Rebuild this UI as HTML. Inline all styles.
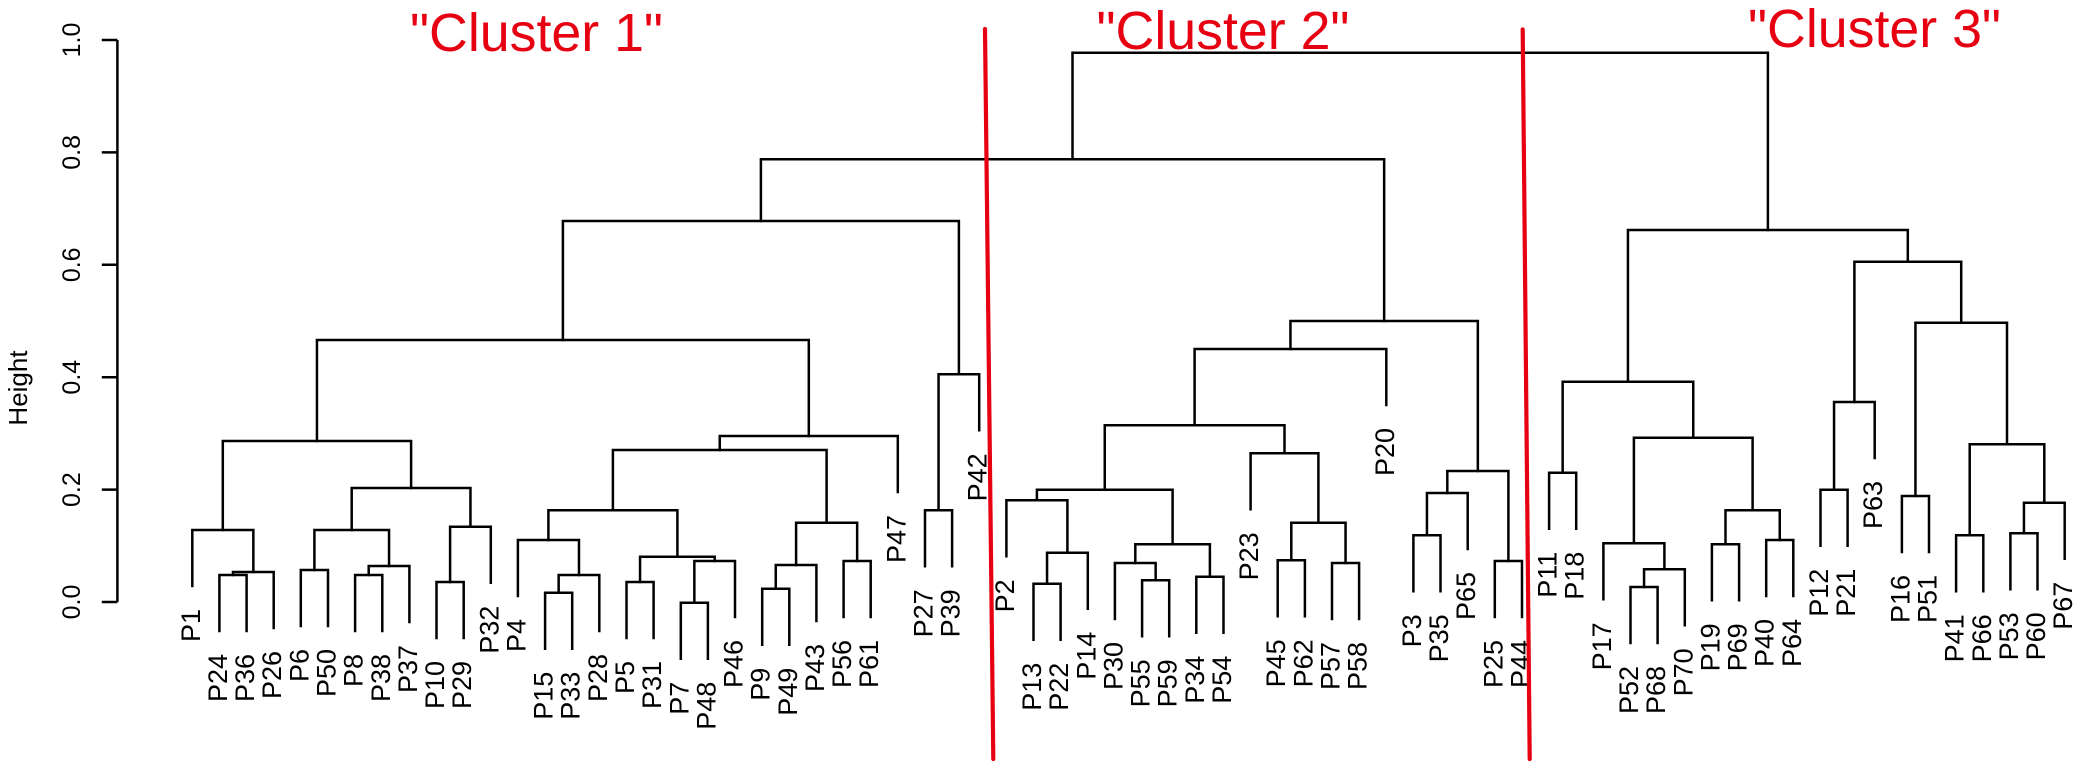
<!DOCTYPE html>
<html>
<head>
<meta charset="utf-8">
<style>
  html, body { margin: 0; padding: 0; background: #ffffff; }
  svg { display: block; }
</style>
</head>
<body>
<svg width="2079" height="766" viewBox="0 0 2079 766" xmlns="http://www.w3.org/2000/svg">
  <rect x="0" y="0" width="2079" height="766" fill="#ffffff"/>

  <!-- Y axis -->
  <g stroke="#000" stroke-width="2.5" fill="none">
    <path d="M117.4,40 V602"/>
    <path d="M101.8,40 H117.4 M101.8,152.4 H117.4 M101.8,264.8 H117.4 M101.8,377.2 H117.4 M101.8,489.6 H117.4 M101.8,602 H117.4"/>
  </g>
  <g font-family="Liberation Sans, Arial, sans-serif" font-size="25" fill="#000" text-anchor="middle">
    <text transform="translate(80,40) rotate(-90)">1.0</text>
    <text transform="translate(80,152.4) rotate(-90)">0.8</text>
    <text transform="translate(80,264.8) rotate(-90)">0.6</text>
    <text transform="translate(80,377.2) rotate(-90)">0.4</text>
    <text transform="translate(80,489.6) rotate(-90)">0.2</text>
    <text transform="translate(80,602) rotate(-90)">0.0</text>
    <text transform="translate(27,388) rotate(-90)" font-size="26">Height</text>
  </g>

  <!-- Dendrogram -->
  <g stroke="#000" stroke-width="2.5" fill="none" stroke-linecap="square">
    <!-- Cluster 1 -->
    <path d="M219.4,631 V575 H246.6 V631"/>
    <path d="M233,575 V572 H273.7 V628"/>
    <path d="M192.3,586 V530 H253.35 V572"/>
    <path d="M300.8,626 V570 H328 V626"/>
    <path d="M355.1,631 V575 H382.3 V631"/>
    <path d="M368.7,575 V566 H409.4 V622"/>
    <path d="M314.4,570 V530 H389.05 V566"/>
    <path d="M436.5,638 V582 H463.7 V638"/>
    <path d="M450.1,582 V526.7 H490.8 V582.7"/>
    <path d="M351.7,530 V488 H470.45 V526.7"/>
    <path d="M222.8,530 V441 H411.1 V488"/>
    <path d="M545.1,648.7 V592.7 H572.2 V648.7"/>
    <path d="M558.65,592.7 V575 H599.3 V631"/>
    <path d="M517.9,596 V540 H578.98 V575"/>
    <path d="M626.5,638 V582 H653.6 V638"/>
    <path d="M680.8,658.7 V602.7 H707.9 V658.7"/>
    <path d="M694.35,602.7 V561 H735 V617"/>
    <path d="M640.05,582 V556.7 H714.7 V561"/>
    <path d="M548.4,540 V510.3 H677.4 V556.7"/>
    <path d="M762.2,644.7 V588.7 H789.3 V644.7"/>
    <path d="M775.75,588.7 V565 H816.4 V621"/>
    <path d="M843.6,617 V561 H870.7 V617"/>
    <path d="M796.1,565 V522.7 H857.15 V561"/>
    <path d="M612.9,510.3 V450 H826.6 V522.7"/>
    <path d="M719.75,450 V436 H897.8 V492"/>
    <path d="M316.95,441 V340 H808.8 V436"/>
    <path d="M925,566.3 V510.3 H952.1 V566.3"/>
    <path d="M938.55,510.3 V374.3 H979.2 V430.3"/>
    <path d="M562.9,340 V221 H958.9 V374.3"/>
    <!-- Cluster 2 -->
    <path d="M1033.5,639.7 V583.7 H1060.6 V639.7"/>
    <path d="M1047.05,583.7 V552.7 H1087.8 V608.7"/>
    <path d="M1006.4,556.3 V500.3 H1067.4 V552.7"/>
    <path d="M1142.1,636.3 V580.3 H1169.2 V636.3"/>
    <path d="M1114.9,619 V563 H1155.65 V580.3"/>
    <path d="M1196.3,632.7 V576.7 H1223.5 V632.7"/>
    <path d="M1135.3,563 V544.3 H1209.9 V576.7"/>
    <path d="M1036.9,500.3 V489.7 H1172.6 V544.3"/>
    <path d="M1277.7,616.3 V560.3 H1304.9 V616.3"/>
    <path d="M1332,619 V563 H1359.1 V619"/>
    <path d="M1291.3,560.3 V522.7 H1345.55 V563"/>
    <path d="M1250.6,509.3 V453.3 H1318.4 V522.7"/>
    <path d="M1104.75,489.7 V425.3 H1284.5 V453.3"/>
    <path d="M1194.6,425.3 V349 H1386.3 V405"/>
    <path d="M1413.4,591.3 V535.3 H1440.5 V591.3"/>
    <path d="M1426.95,535.3 V493 H1467.7 V549"/>
    <path d="M1494.8,617 V561 H1522 V617"/>
    <path d="M1447.3,493 V471 H1508.4 V561"/>
    <path d="M1290.45,349 V321 H1477.85 V471"/>
    <path d="M760.9,221 V159.3 H1384.15 V321"/>
    <!-- Cluster 3 -->
    <path d="M1549.1,528.7 V472.7 H1576.2 V528.7"/>
    <path d="M1630.5,643 V587 H1657.6 V643"/>
    <path d="M1644.05,587 V569.3 H1684.8 V625.3"/>
    <path d="M1603.4,599.3 V543.3 H1664.4 V569.3"/>
    <path d="M1711.9,600.3 V544.3 H1739.1 V600.3"/>
    <path d="M1766.2,596 V540 H1793.3 V596"/>
    <path d="M1725.5,544.3 V510.3 H1779.75 V540"/>
    <path d="M1633.9,543.3 V437.7 H1752.6 V510.3"/>
    <path d="M1562.65,472.7 V381.7 H1693.25 V437.7"/>
    <path d="M1820.5,545.7 V489.7 H1847.6 V545.7"/>
    <path d="M1834.05,489.7 V402 H1874.7 V458"/>
    <path d="M1901.9,552 V496 H1929 V552"/>
    <path d="M1956.1,591.3 V535.3 H1983.3 V591.3"/>
    <path d="M2010.4,589.3 V533.3 H2037.5 V589.3"/>
    <path d="M2023.95,533.3 V502.7 H2064.7 V558.7"/>
    <path d="M1969.7,535.3 V444.3 H2044.3 V502.7"/>
    <path d="M1915.45,496 V322.7 H2007 V444.3"/>
    <path d="M1854.4,402 V261.7 H1961.2 V322.7"/>
    <path d="M1627.95,381.7 V230 H1907.8 V261.7"/>
    <!-- Root -->
    <path d="M1072.5,159.3 V52.7 H1767.9 V230"/>
  </g>

  <!-- Leaf labels -->
  <g font-family="Liberation Sans, Arial, sans-serif" font-size="27" fill="#000" text-anchor="end">
    <text transform="translate(199.8,609) rotate(-90)">P1</text>
    <text transform="translate(226.9,654) rotate(-90)">P24</text>
    <text transform="translate(254.1,654) rotate(-90)">P36</text>
    <text transform="translate(281.2,651) rotate(-90)">P26</text>
    <text transform="translate(308.3,649) rotate(-90)">P6</text>
    <text transform="translate(335.5,649) rotate(-90)">P50</text>
    <text transform="translate(362.6,654) rotate(-90)">P8</text>
    <text transform="translate(389.8,654) rotate(-90)">P38</text>
    <text transform="translate(416.9,645) rotate(-90)">P37</text>
    <text transform="translate(444,661) rotate(-90)">P10</text>
    <text transform="translate(471.2,661) rotate(-90)">P29</text>
    <text transform="translate(498.3,605.7) rotate(-90)">P32</text>
    <text transform="translate(525.4,619) rotate(-90)">P4</text>
    <text transform="translate(552.6,671.7) rotate(-90)">P15</text>
    <text transform="translate(579.7,671.7) rotate(-90)">P33</text>
    <text transform="translate(606.8,654) rotate(-90)">P28</text>
    <text transform="translate(634,661) rotate(-90)">P5</text>
    <text transform="translate(661.1,661) rotate(-90)">P31</text>
    <text transform="translate(688.3,681.7) rotate(-90)">P7</text>
    <text transform="translate(715.4,681.7) rotate(-90)">P48</text>
    <text transform="translate(742.5,640) rotate(-90)">P46</text>
    <text transform="translate(769.7,667.7) rotate(-90)">P9</text>
    <text transform="translate(796.8,667.7) rotate(-90)">P49</text>
    <text transform="translate(823.9,644) rotate(-90)">P43</text>
    <text transform="translate(851.1,640) rotate(-90)">P56</text>
    <text transform="translate(878.2,640) rotate(-90)">P61</text>
    <text transform="translate(905.3,515) rotate(-90)">P47</text>
    <text transform="translate(932.5,589.3) rotate(-90)">P27</text>
    <text transform="translate(959.6,589.3) rotate(-90)">P39</text>
    <text transform="translate(986.7,453.3) rotate(-90)">P42</text>
    <text transform="translate(1013.9,579.3) rotate(-90)">P2</text>
    <text transform="translate(1041,662.7) rotate(-90)">P13</text>
    <text transform="translate(1068.1,662.7) rotate(-90)">P22</text>
    <text transform="translate(1095.3,631.7) rotate(-90)">P14</text>
    <text transform="translate(1122.4,642) rotate(-90)">P30</text>
    <text transform="translate(1149.6,659.3) rotate(-90)">P55</text>
    <text transform="translate(1176.7,659.3) rotate(-90)">P59</text>
    <text transform="translate(1203.8,655.7) rotate(-90)">P34</text>
    <text transform="translate(1231,655.7) rotate(-90)">P54</text>
    <text transform="translate(1258.1,532.3) rotate(-90)">P23</text>
    <text transform="translate(1285.2,639.3) rotate(-90)">P45</text>
    <text transform="translate(1312.4,639.3) rotate(-90)">P62</text>
    <text transform="translate(1339.5,642) rotate(-90)">P57</text>
    <text transform="translate(1366.6,642) rotate(-90)">P58</text>
    <text transform="translate(1393.8,428) rotate(-90)">P20</text>
    <text transform="translate(1420.9,614.3) rotate(-90)">P3</text>
    <text transform="translate(1448,614.3) rotate(-90)">P35</text>
    <text transform="translate(1475.2,572) rotate(-90)">P65</text>
    <text transform="translate(1502.3,640) rotate(-90)">P25</text>
    <text transform="translate(1529.5,640) rotate(-90)">P44</text>
    <text transform="translate(1556.6,551.7) rotate(-90)">P11</text>
    <text transform="translate(1583.7,551.7) rotate(-90)">P18</text>
    <text transform="translate(1610.9,622.3) rotate(-90)">P17</text>
    <text transform="translate(1638,666) rotate(-90)">P52</text>
    <text transform="translate(1665.1,666) rotate(-90)">P68</text>
    <text transform="translate(1692.3,648.3) rotate(-90)">P70</text>
    <text transform="translate(1719.4,623.3) rotate(-90)">P19</text>
    <text transform="translate(1746.6,623.3) rotate(-90)">P69</text>
    <text transform="translate(1773.7,619) rotate(-90)">P40</text>
    <text transform="translate(1800.8,619) rotate(-90)">P64</text>
    <text transform="translate(1828,568.7) rotate(-90)">P12</text>
    <text transform="translate(1855.1,568.7) rotate(-90)">P21</text>
    <text transform="translate(1882.2,481) rotate(-90)">P63</text>
    <text transform="translate(1909.4,575) rotate(-90)">P16</text>
    <text transform="translate(1936.5,575) rotate(-90)">P51</text>
    <text transform="translate(1963.6,614.3) rotate(-90)">P41</text>
    <text transform="translate(1990.8,614.3) rotate(-90)">P66</text>
    <text transform="translate(2017.9,612.3) rotate(-90)">P53</text>
    <text transform="translate(2045,612.3) rotate(-90)">P60</text>
    <text transform="translate(2072.2,581.7) rotate(-90)">P67</text>
  </g>

  <!-- Red cluster divider lines -->
  <g stroke="#e60012" stroke-width="4.2" stroke-linecap="round" fill="none">
    <path d="M985,29 L993.3,759"/>
    <path d="M1522.7,29.5 L1529.7,759"/>
  </g>

  <!-- Cluster titles -->
  <g font-family="Liberation Sans, Arial, sans-serif" font-size="54" fill="#e60012">
    <text x="410" y="51" textLength="253" lengthAdjust="spacingAndGlyphs">"Cluster 1"</text>
    <text x="1096.5" y="49" textLength="253" lengthAdjust="spacingAndGlyphs">"Cluster 2"</text>
    <text x="1748" y="47" textLength="253" lengthAdjust="spacingAndGlyphs">"Cluster 3"</text>
  </g>
</svg>
</body>
</html>
